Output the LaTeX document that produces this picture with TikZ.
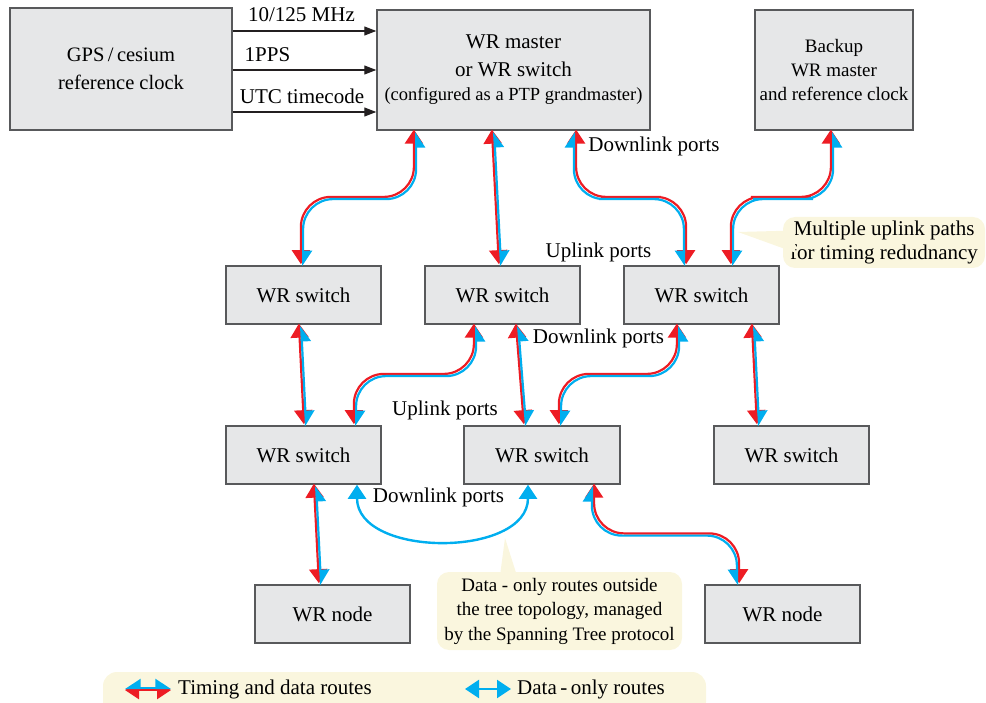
\documentclass[tikz,border=0pt]{standalone}
\usepackage{fontspec}
\setmainfont{Liberation Serif}
\usetikzlibrary{arrows.meta,calc}
\definecolor{tred}{RGB}{237,28,36}
\definecolor{tblue}{RGB}{0,174,239}
\definecolor{boxgray}{RGB}{230,231,232}
\definecolor{boxline}{RGB}{88,89,91}
\definecolor{notefill}{RGB}{250,246,222}
\definecolor{sigline}{RGB}{35,31,32}
\newcommand{\tdroute}[2]{\draw[td red #1] #2; \draw[td blue #1] #2;}

\begin{document}
\begin{tikzpicture}[x=1pt,y=1pt]
\tikzstyle{every node}+=[inner sep=0pt, font=\fontsize{21}{24}\selectfont]
\tikzstyle{wrbox}=[draw=boxline, fill=boxgray, line width=1.5pt, align=center]
\tikzstyle{wrsw}=[wrbox, minimum width=155pt, minimum height=58pt]
\tikzstyle{note}=[fill=notefill, rounded corners=12pt, align=center]
\tikzstyle{sig}=[draw=sigline, line width=1.2pt, -{Triangle[length=12pt,width=9pt]}]
\tikzstyle{data}=[draw=tblue, line width=2.4pt, {Triangle[length=14pt,width=18pt]}-{Triangle[length=14pt,width=18pt]}]
\tikzstyle{td base}=[line width=2.2pt, rounded corners=30pt]
\tikzstyle{td red e}=[td base, draw=tred, transform canvas={shift={(-1.1,1.1)}}, {Triangle[length=14pt,width=18pt]}-{Triangle[length=14pt,width=18pt]}]
\tikzstyle{td blue e}=[td base, draw=tblue, transform canvas={shift={(1.1,-1.1)}}, {Triangle[length=14pt,width=18pt,harpoon,swap]}-{Triangle[length=14pt,width=18pt,harpoon]}]
\tikzstyle{td red w}=[td base, draw=tred, transform canvas={shift={(1.1,1.1)}}, {Triangle[length=14pt,width=18pt]}-{Triangle[length=14pt,width=18pt]}]
\tikzstyle{td blue w}=[td base, draw=tblue, transform canvas={shift={(-1.1,-1.1)}}, {Triangle[length=14pt,width=18pt,harpoon]}-{Triangle[length=14pt,width=18pt,harpoon,swap]}]
\tikzstyle{td red l}=[td base, draw=tred, transform canvas={shift={(0,-1.1)}}, {Triangle[length=14pt,width=18pt]}-{Triangle[length=14pt,width=18pt]}]
\tikzstyle{td blue l}=[td base, draw=tblue, transform canvas={shift={(0,1.1)}}, {Triangle[length=14pt,width=18pt,harpoon,swap]}-{Triangle[length=14pt,width=18pt,harpoon]}]
\useasboundingbox (0,0) rectangle (986,-703);

\node[wrbox, minimum width=222pt, minimum height=122pt, font=\fontsize{20.5}{28}\selectfont] (gps) at (121,-69) {GPS\,/\,cesium\\reference clock};
\node[wrbox, minimum width=273pt, minimum height=120pt, font=\fontsize{21}{28}\selectfont] (master) at (513.5,-70) {WR master\\or WR switch\\[-4pt]\fontsize{18.5}{24}\selectfont (configured as a PTP grandmaster)};
\node[wrbox, minimum width=158pt, minimum height=120pt, font=\fontsize{19}{24}\selectfont] (backup) at (834,-70) {Backup\\WR master\\and reference clock};
\node[wrsw] (swa) at (303.5,-295) {WR switch};
\node[wrsw] (swb) at (502.5,-295) {WR switch};
\node[wrsw] (swc) at (701.5,-295) {WR switch};
\node[wrsw] (swd) at (303.5,-455) {WR switch};
\node[wrsw, minimum width=156pt] (swe) at (542,-455) {WR switch};
\node[wrsw] (swf) at (791.5,-455) {WR switch};
\node[wrsw] (nodeg) at (332.5,-614) {WR node};
\node[wrsw] (nodeh) at (782.5,-614) {WR node};

\draw[sig] ([yshift=38pt]gps.east) -- ([yshift=38pt]gps.east -| master.west);
\draw[sig] ([yshift=-1pt]gps.east) -- ([yshift=-1pt]gps.east -| master.west);
\draw[sig] ([yshift=-43pt]gps.east) -- ([yshift=-43pt]gps.east -| master.west);
\node (freq) at (301.5,-15) {10/125 MHz};
\node (pps) at (267.5,-55) {1PPS};
\node (utc) at (302,-96) {UTC timecode};

\coordinate (mp1) at ([xshift=-98.5pt]master.south);
\coordinate (mp2) at ([xshift=-20.5pt]master.south);
\coordinate (mp3) at ([xshift=61.5pt]master.south);
\coordinate (bp1) at ([xshift=-2pt]backup.south);
\coordinate (an1) at ([xshift=-1.5pt]swa.north);
\coordinate (as1) at ([xshift=-3.5pt]swa.south);
\coordinate (bn1) at ([xshift=-2.5pt]swb.north);
\coordinate (bs1) at ([xshift=-27.5pt]swb.south);
\coordinate (bs2) at ([xshift=14.5pt]swb.south);
\coordinate (cn1) at ([xshift=-16.5pt]swc.north);
\coordinate (cn2) at ([xshift=30.5pt]swc.north);
\coordinate (cs1) at ([xshift=-23.5pt]swc.south);
\coordinate (cs2) at ([xshift=51.5pt]swc.south);
\coordinate (dn1) at ([xshift=1.5pt]swd.north);
\coordinate (dn2) at ([xshift=51.5pt]swd.north);
\coordinate (ds1) at ([xshift=11.5pt]swd.south);
\coordinate (ds2) at ([xshift=53.5pt]swd.south);
\coordinate (en1) at ([xshift=-17pt]swe.north);
\coordinate (en2) at ([xshift=18pt]swe.north);
\coordinate (es1) at ([xshift=51pt]swe.south);
\coordinate (es2) at ([xshift=-14pt]swe.south);
\coordinate (fn1) at ([xshift=-33.5pt]swf.north);
\coordinate (gn1) at ([xshift=-12.5pt]nodeg.north);
\coordinate (hn1) at ([xshift=-44.5pt]nodeh.north);

\tdroute{e}{(mp1) |- ($(mp1)!.5!(an1)$) -| (an1)}
\tdroute{e}{(mp2) -- (bn1)}
\tdroute{w}{(mp3) |- ($(mp3)!.5!(cn1)$) -| (cn1)}
\tdroute{e}{(bp1) |- ($(bp1)!.5!(cn2)$) -| (cn2)}
\tdroute{e}{(as1) -- (dn1)}
\tdroute{e}{(bs1) |- ($(bs1)!.5!(dn2)$) -| (dn2)}
\tdroute{e}{(bs2) -- (en1)}
\tdroute{e}{(cs1) |- ($(cs1)!.5!(en2)$) -| (en2)}
\tdroute{e}{(cs2) -- (fn1)}
\tdroute{e}{(ds1) -- (gn1)}
\tdroute{w}{(es1) |- ($(es1)!.5!(hn1)$) -| (hn1)}
\draw[data] (ds2) to[out=-90,in=-90,looseness=1.1] (es2);

\node (down1) at (654,-146) {Downlink ports};
\node (up1) at (598.5,-252) {Uplink ports};
\node (down2) at (598.5,-338) {Downlink ports};
\node (up2) at (445,-410) {Uplink ports};
\node (down3) at (438.5,-497) {Downlink ports};

\node[note, minimum width=202pt, minimum height=51pt] (redund) at (884,-242.5) {Multiple uplink paths\\for timing redudnancy};
\coordinate (redtip) at (738,-232);
\fill[notefill] ([xshift=12pt,yshift=12pt]redund.west) -- (redtip) -- ([xshift=12pt,yshift=-10pt]redund.west) -- cycle;

\node[note, minimum width=245pt, minimum height=78pt, font=\fontsize{19}{24.5}\selectfont] (spannote) at (559.5,-611) {Data - only routes outside\\the tree topology, managed\\by the Spanning Tree protocol};
\coordinate (spantip) at (505,-538);
\fill[notefill] ([xshift=-59.5pt,yshift=-4pt]spannote.north) -- (spantip) -- ([xshift=-42.5pt,yshift=-4pt]spannote.north) -- cycle;

\fill[notefill, rounded corners=14pt] (103,-672) rectangle (706,-716);
\coordinate (tdl) at (125,-689);
\coordinate (tdr) at (171,-689);
\tdroute{l}{(tdl) -- (tdr)}
\node[anchor=west] (tdtext) at (178,-689) {Timing and data routes};
\coordinate (dol) at (465,-689);
\coordinate (dor) at (511,-689);
\draw[data] (dol) -- (dor);
\node[anchor=west] (dotext) at (517,-689) {Data\,-\,only routes};
\end{tikzpicture}
\end{document}
